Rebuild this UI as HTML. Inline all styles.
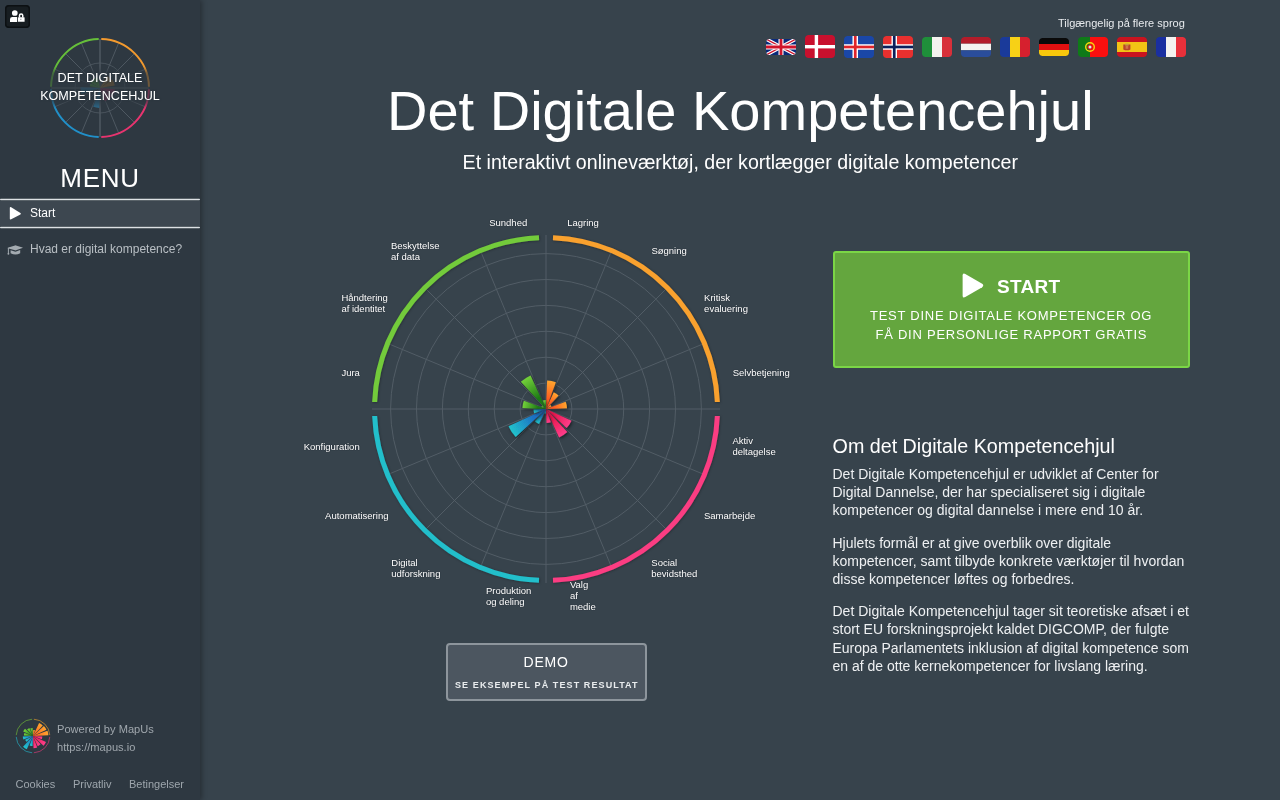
<!DOCTYPE html>
<html><head><meta charset="utf-8"><title>Det Digitale Kompetencehjul</title>
<style>
html,body{margin:0;padding:0}
body{width:1280px;height:800px;overflow:hidden;position:relative;background:#37434c;font-family:"Liberation Sans", sans-serif;color:#fff}
#sb{position:absolute;left:0;top:0;width:200px;height:800px;background:#2e3841;box-shadow:2px 0 5px rgba(0,0,0,.3)}
.cl{position:absolute;font-size:9.5px;line-height:11px;color:#fff;white-space:nowrap;text-shadow:0 0 1px #2a333b,0 0 1px #2a333b}
p{margin:0}
</style></head><body><div id="wrap" style="position:absolute;left:0;top:0;width:1280px;height:800px;will-change:transform">
<div id="sb">
  <div style="position:absolute;left:5px;top:5px;width:25px;height:23px;border-radius:4px;background:#171d21;box-shadow:inset 0 0 0 1.5px #0c1013"></div>
  <svg width="16" height="13" viewBox="0 0 16 13" style="position:absolute;left:10px;top:10px">
    <circle cx="4.8" cy="3" r="2.85" fill="#fff"/>
    <path d="M0 11.9V9.3Q0 6.9 2.4 6.9H7.1V11.9Z" fill="#fff"/>
    <path d="M8.3 7.25H14.2Q14.6 7.25 14.6 7.7V11.4Q14.6 11.8 14.2 11.8H8.3Q7.9 11.8 7.9 11.4V7.7Q7.9 7.25 8.3 7.25Z" fill="#fff"/>
    <path d="M9.5 7.5V5.4Q9.5 4 11.1 4Q12.75 4 12.75 5.4V7.5" fill="none" stroke="#fff" stroke-width="1.5"/>
    <rect x="10.1" y="8.8" width="1.4" height="0.9" fill="#8a8f93"/>
  </svg>
  <svg width="104" height="104" style="position:absolute;left:48px;top:36px">
<defs><filter id="lb" x="-50%" y="-50%" width="200%" height="200%"><feGaussianBlur stdDeviation="2.5"/></filter><mask id="lm" maskUnits="userSpaceOnUse" x="0" y="0" width="104" height="104"><rect width="104" height="104" fill="#fff"/><rect x="-20" y="34" width="144" height="35" fill="#555" filter="url(#lb)"/></mask></defs><g mask="url(#lm)">
<circle cx="52" cy="52" r="25" fill="none" stroke="#4a545d" stroke-width="1"/>
<line x1="52" y1="52" x2="52.00" y2="3.00" stroke="#4f5962" stroke-width="1.5"/>
<line x1="52" y1="52" x2="70.75" y2="6.73" stroke="#4f5962" stroke-width="1"/>
<line x1="52" y1="52" x2="86.65" y2="17.35" stroke="#4f5962" stroke-width="1"/>
<line x1="52" y1="52" x2="97.27" y2="33.25" stroke="#4f5962" stroke-width="1"/>
<line x1="52" y1="52" x2="101.00" y2="52.00" stroke="#4f5962" stroke-width="1.5"/>
<line x1="52" y1="52" x2="97.27" y2="70.75" stroke="#4f5962" stroke-width="1"/>
<line x1="52" y1="52" x2="86.65" y2="86.65" stroke="#4f5962" stroke-width="1"/>
<line x1="52" y1="52" x2="70.75" y2="97.27" stroke="#4f5962" stroke-width="1"/>
<line x1="52" y1="52" x2="52.00" y2="101.00" stroke="#4f5962" stroke-width="1.5"/>
<line x1="52" y1="52" x2="33.25" y2="97.27" stroke="#4f5962" stroke-width="1"/>
<line x1="52" y1="52" x2="17.35" y2="86.65" stroke="#4f5962" stroke-width="1"/>
<line x1="52" y1="52" x2="6.73" y2="70.75" stroke="#4f5962" stroke-width="1"/>
<line x1="52" y1="52" x2="3.00" y2="52.00" stroke="#4f5962" stroke-width="1.5"/>
<line x1="52" y1="52" x2="6.73" y2="33.25" stroke="#4f5962" stroke-width="1"/>
<line x1="52" y1="52" x2="17.35" y2="17.35" stroke="#4f5962" stroke-width="1"/>
<line x1="52" y1="52" x2="33.25" y2="6.73" stroke="#4f5962" stroke-width="1"/>
<path d="M53.28 3.02A49 49 0 0 1 100.98 50.72" fill="none" stroke="#f39a2e" stroke-width="2"/>
<path d="M100.98 53.28A49 49 0 0 1 53.28 100.98" fill="none" stroke="#e8346f" stroke-width="2"/>
<path d="M50.72 100.98A49 49 0 0 1 3.02 53.28" fill="none" stroke="#2190c9" stroke-width="2"/>
<path d="M3.02 50.72A49 49 0 0 1 50.72 3.02" fill="none" stroke="#66bf3a" stroke-width="2"/>
<path d="M52 52L41.66 50.18A10.5 10.5 0 0 1 42.56 47.40Z" fill="#4a8f33" opacity="0.9"/>
<path d="M52 52L42.29 46.84A11 11 0 0 1 44.64 43.83Z" fill="#4a8f33" opacity="0.9"/>
<path d="M52 52L45.06 43.73A10.8 10.8 0 0 1 49.75 41.44Z" fill="#4a8f33" opacity="0.9"/>
<path d="M52 52L59.00 39.88A14 14 0 0 1 63.03 43.38Z" fill="#9a6a2e" opacity="0.9"/>
<path d="M52 52L64.29 43.40A15 15 0 0 1 66.77 49.40Z" fill="#9a6a2e" opacity="0.9"/>
<path d="M52 52L33.45 58.03A19.5 19.5 0 0 1 32.51 51.32Z" fill="#2b6f93" opacity="0.9"/>
<path d="M52 52L51.30 71.99A20 20 0 0 1 45.16 70.79Z" fill="#2b6f93" opacity="0.9"/>
<path d="M52 52L66.94 53.31A15 15 0 0 1 65.24 59.04Z" fill="#8e3058" opacity="0.9"/>
<path d="M52 52L63.87 59.42A14 14 0 0 1 56.79 65.16Z" fill="#8e3058" opacity="0.9"/>
</g>
</svg>
  <div style="position:absolute;left:0;top:69.2px;width:200px;text-align:center;font-size:12.6px;line-height:18px;letter-spacing:0;color:#fff;text-shadow:0 0 2px rgba(45,55,64,.8)">DET DIGITALE<br>KOMPETENCEHJUL</div>
  <div style="position:absolute;left:0;top:163px;width:200px;text-align:center;font-size:26px;line-height:30px;letter-spacing:0.7px">MENU</div>
  <div style="position:absolute;left:0;top:201px;width:200px;height:25px;background:#3d4750"></div>
  <svg width="200" height="40" style="position:absolute;left:0;top:190px"><rect x="0" y="8.8" width="200" height="1.45" rx="0.7" fill="#dde1e4"/><rect x="0" y="36.8" width="200" height="1.45" rx="0.7" fill="#dde1e4"/></svg>
  <svg width="14" height="15" viewBox="0 0 14 15" style="position:absolute;left:9px;top:206px"><path d="M2.2 1.3Q0.8 0.6 0.8 2.1V12.5Q0.8 14.0 2.2 13.3L11.4 8.4Q12.5 7.7 11.4 7.0Z" fill="#fff"/></svg>
  <div style="position:absolute;left:30px;top:206.84px;font-size:12px;line-height:12px;white-space:nowrap;">Start</div>
  <svg width="17" height="11" viewBox="0 0 17 11" style="position:absolute;left:7.2px;top:244.5px"><path d="M0.6 3.2Q0.6 2.6 1.4 2.4L8 0.4Q8.5 0.25 9 0.4L15.4 2.4Q16.2 2.7 15.4 3.1L9 5.3Q8.5 5.5 8 5.3Z" fill="#a3aab0"/><path d="M3.6 5.2V8.2Q8.5 10.8 13.2 8.2V5.1L8.5 6.7Z" fill="#a3aab0"/><path d="M1.4 3V8.4" stroke="#a3aab0" stroke-width="1"/><ellipse cx="1.4" cy="8.8" rx="0.9" ry="1" fill="#a3aab0"/></svg>
  <div style="position:absolute;left:30px;top:242.54px;font-size:12px;line-height:12px;white-space:nowrap;color:#b9bfc4">Hvad er digital kompetence?</div>
  <svg width="36" height="36" style="position:absolute;left:14.5px;top:718.3px">
<defs>
<radialGradient id="m0" gradientUnits="userSpaceOnUse" cx="18" cy="18" r="6"><stop offset="0" stop-color="#ff5a1f"/><stop offset="1" stop-color="#ffa52e"/></radialGradient>
<radialGradient id="m1" gradientUnits="userSpaceOnUse" cx="18" cy="18" r="14.4"><stop offset="0" stop-color="#ff5a1f"/><stop offset="1" stop-color="#ffa52e"/></radialGradient>
<radialGradient id="m2" gradientUnits="userSpaceOnUse" cx="18" cy="18" r="14.8"><stop offset="0" stop-color="#ff5a1f"/><stop offset="1" stop-color="#ffa52e"/></radialGradient>
<radialGradient id="m3" gradientUnits="userSpaceOnUse" cx="18" cy="18" r="15.4"><stop offset="0" stop-color="#ff5a1f"/><stop offset="1" stop-color="#ffa52e"/></radialGradient>
<radialGradient id="m4" gradientUnits="userSpaceOnUse" cx="18" cy="18" r="9.3"><stop offset="0" stop-color="#e8194f"/><stop offset="1" stop-color="#ff3d8a"/></radialGradient>
<radialGradient id="m5" gradientUnits="userSpaceOnUse" cx="18" cy="18" r="14.3"><stop offset="0" stop-color="#e8194f"/><stop offset="1" stop-color="#ff3d8a"/></radialGradient>
<radialGradient id="m6" gradientUnits="userSpaceOnUse" cx="18" cy="18" r="11.2"><stop offset="0" stop-color="#e8194f"/><stop offset="1" stop-color="#ff3d8a"/></radialGradient>
<radialGradient id="m7" gradientUnits="userSpaceOnUse" cx="18" cy="18" r="12.3"><stop offset="0" stop-color="#e8194f"/><stop offset="1" stop-color="#ff3d8a"/></radialGradient>
<radialGradient id="m8" gradientUnits="userSpaceOnUse" cx="18" cy="18" r="10"><stop offset="0" stop-color="#1f6fc4"/><stop offset="1" stop-color="#20c3cc"/></radialGradient>
<radialGradient id="m9" gradientUnits="userSpaceOnUse" cx="18" cy="18" r="14.7"><stop offset="0" stop-color="#1f6fc4"/><stop offset="1" stop-color="#20c3cc"/></radialGradient>
<radialGradient id="m10" gradientUnits="userSpaceOnUse" cx="18" cy="18" r="8.6"><stop offset="0" stop-color="#1f6fc4"/><stop offset="1" stop-color="#20c3cc"/></radialGradient>
<radialGradient id="m11" gradientUnits="userSpaceOnUse" cx="18" cy="18" r="10.2"><stop offset="0" stop-color="#1f6fc4"/><stop offset="1" stop-color="#20c3cc"/></radialGradient>
<radialGradient id="m12" gradientUnits="userSpaceOnUse" cx="18" cy="18" r="9.1"><stop offset="0" stop-color="#1d7a16"/><stop offset="1" stop-color="#74d13a"/></radialGradient>
<radialGradient id="m13" gradientUnits="userSpaceOnUse" cx="18" cy="18" r="10.8"><stop offset="0" stop-color="#1d7a16"/><stop offset="1" stop-color="#74d13a"/></radialGradient>
<radialGradient id="m14" gradientUnits="userSpaceOnUse" cx="18" cy="18" r="8.7"><stop offset="0" stop-color="#1d7a16"/><stop offset="1" stop-color="#74d13a"/></radialGradient>
<radialGradient id="m15" gradientUnits="userSpaceOnUse" cx="18" cy="18" r="8"><stop offset="0" stop-color="#1d7a16"/><stop offset="1" stop-color="#74d13a"/></radialGradient>
</defs>
<path d="M18.88 1.22A16.8 16.8 0 0 1 34.78 17.12" fill="none" stroke="#a57a34" stroke-width="1"/>
<path d="M34.78 18.88A16.8 16.8 0 0 1 18.88 34.78" fill="none" stroke="#a23a66" stroke-width="1"/>
<path d="M17.12 34.78A16.8 16.8 0 0 1 1.22 18.88" fill="none" stroke="#27899a" stroke-width="1"/>
<path d="M1.22 17.12A16.8 16.8 0 0 1 17.12 1.22" fill="none" stroke="#5a8d3a" stroke-width="1"/>
<path d="M18 18L18.26 12.01A6 6 0 0 1 20.05 12.36Z" fill="url(#m0)"/>
<path d="M18 18L24.09 4.95A14.4 14.4 0 0 1 27.73 7.38Z" fill="url(#m1)"/>
<path d="M18 18L28.91 8.00A14.8 14.8 0 0 1 31.41 11.75Z" fill="url(#m2)"/>
<path d="M18 18L32.47 12.73A15.4 15.4 0 0 1 33.39 17.33Z" fill="url(#m3)"/>
<path d="M18 18L27.29 18.41A9.3 9.3 0 0 1 26.74 21.18Z" fill="url(#m4)"/>
<path d="M18 18L30.96 24.04A14.3 14.3 0 0 1 28.54 27.66Z" fill="url(#m5)"/>
<path d="M18 18L25.57 26.26A11.2 11.2 0 0 1 22.73 28.15Z" fill="url(#m6)"/>
<path d="M18 18L22.21 29.56A12.3 12.3 0 0 1 18.54 30.29Z" fill="url(#m7)"/>
<path d="M18 18L17.56 27.99A10 10 0 0 1 14.58 27.40Z" fill="url(#m8)"/>
<path d="M18 18L11.79 31.32A14.7 14.7 0 0 1 8.07 28.84Z" fill="url(#m9)"/>
<path d="M18 18L11.66 23.81A8.6 8.6 0 0 1 10.21 21.63Z" fill="url(#m10)"/>
<path d="M18 18L8.42 21.49A10.2 10.2 0 0 1 7.81 18.44Z" fill="url(#m11)"/>
<path d="M18 18L8.91 17.60A9.1 9.1 0 0 1 9.45 14.89Z" fill="url(#m12)"/>
<path d="M18 18L8.21 13.44A10.8 10.8 0 0 1 10.04 10.70Z" fill="url(#m13)"/>
<path d="M18 18L12.12 11.59A8.7 8.7 0 0 1 14.32 10.12Z" fill="url(#m14)"/>
<path d="M18 18L15.26 10.48A8 8 0 0 1 17.65 10.01Z" fill="url(#m15)"/>
</svg>
  <div style="position:absolute;left:57px;top:723.60px;font-size:11.1px;line-height:11.1px;white-space:nowrap;color:#a0a7ad">Powered by MapUs</div>
  <div style="position:absolute;left:57px;top:741.60px;font-size:11.1px;line-height:11.1px;white-space:nowrap;color:#a0a7ad">https://mapus.io</div>
  <div style="position:absolute;left:15.5px;top:778.69px;font-size:11px;line-height:11px;white-space:nowrap;color:#9ea6ad">Cookies</div>
  <div style="position:absolute;left:73px;top:778.69px;font-size:11px;line-height:11px;white-space:nowrap;color:#9ea6ad">Privatliv</div>
  <div style="position:absolute;left:129px;top:778.69px;font-size:11px;line-height:11px;white-space:nowrap;color:#9ea6ad">Betingelser</div>
</div>
<div style="position:absolute;left:1058px;top:18.19px;font-size:11px;line-height:11px;white-space:nowrap;color:#e8ebee">Tilgængelig på flere sprog</div>
<svg width="30" height="16" viewBox="0 0 30 16" preserveAspectRatio="none" style="position:absolute;left:766px;top:39px;border-radius:3px"><defs><clipPath id="c766"><rect width="30" height="16" rx="3.5"/></clipPath></defs><g clip-path="url(#c766)"><rect width="30" height="16" fill="#0b2a7a"/><path d="M0 0L30 16M30 0L0 16" stroke="#fff" stroke-width="3.6"/><path d="M0 0L30 16M30 0L0 16" stroke="#d0132b" stroke-width="1.3"/><path d="M15 0V16M0 8.0H30" stroke="#fff" stroke-width="5"/><path d="M15 0V16M0 8.0H30" stroke="#d0132b" stroke-width="2.8"/></g></svg>
<svg width="30" height="23" viewBox="0 0 30 23" preserveAspectRatio="none" style="position:absolute;left:805px;top:35px;border-radius:3px"><defs><clipPath id="c805"><rect width="30" height="23" rx="3.5"/></clipPath></defs><g clip-path="url(#c805)"><rect width="30" height="23" fill="#c8102e"/><rect x="9.7" width="3.4" height="23" fill="#fff"/><rect y="10" width="30" height="3.4" fill="#fff"/></g></svg>
<svg width="30" height="22" viewBox="0 0 30 22" preserveAspectRatio="none" style="position:absolute;left:844px;top:36px;border-radius:3px"><defs><clipPath id="c844"><rect width="30" height="22" rx="3.5"/></clipPath></defs><g clip-path="url(#c844)"><rect width="30" height="22" fill="#1a47a8"/><rect x="8.5" width="5.5" height="22" fill="#fff"/><rect y="8.25" width="30" height="5.5" fill="#fff"/><rect x="9.9" width="2.7" height="22" fill="#e0242b"/><rect y="9.65" width="30" height="2.7" fill="#e0242b"/></g></svg>
<svg width="30" height="22" viewBox="0 0 30 22" preserveAspectRatio="none" style="position:absolute;left:883px;top:36px;border-radius:3px"><defs><clipPath id="c883"><rect width="30" height="22" rx="3.5"/></clipPath></defs><g clip-path="url(#c883)"><rect width="30" height="22" fill="#e8302f"/><rect x="8.5" width="5.5" height="22" fill="#fff"/><rect y="8.25" width="30" height="5.5" fill="#fff"/><rect x="9.9" width="2.7" height="22" fill="#0a1f5c"/><rect y="9.65" width="30" height="2.7" fill="#0a1f5c"/></g></svg>
<svg width="30" height="20" viewBox="0 0 30 20" preserveAspectRatio="none" style="position:absolute;left:922px;top:37px;border-radius:3px"><defs><clipPath id="c922"><rect width="30" height="20" rx="3.5"/></clipPath></defs><g clip-path="url(#c922)"><rect width="10" height="20" fill="#1f8f3a"/><rect x="10" width="10" height="20" fill="#f4f2ef"/><rect x="20" width="10" height="20" fill="#d8303a"/></g></svg>
<svg width="30" height="20" viewBox="0 0 30 20" preserveAspectRatio="none" style="position:absolute;left:961px;top:37px;border-radius:3px"><defs><clipPath id="c961"><rect width="30" height="20" rx="3.5"/></clipPath></defs><g clip-path="url(#c961)"><rect width="30" height="6.7" fill="#b31c2a"/><rect y="6.7" width="30" height="6.6" fill="#f4f2ef"/><rect y="13.3" width="30" height="6.7" fill="#2a4d9b"/></g></svg>
<svg width="30" height="20" viewBox="0 0 30 20" preserveAspectRatio="none" style="position:absolute;left:1000px;top:37px;border-radius:3px"><defs><clipPath id="c1000"><rect width="30" height="20" rx="3.5"/></clipPath></defs><g clip-path="url(#c1000)"><rect width="10" height="20" fill="#1a3a9a"/><rect x="10" width="10" height="20" fill="#f7d116"/><rect x="20" width="10" height="20" fill="#d6202e"/></g></svg>
<svg width="30" height="18" viewBox="0 0 30 18" preserveAspectRatio="none" style="position:absolute;left:1039px;top:38px;border-radius:3px"><defs><clipPath id="c1039"><rect width="30" height="18" rx="3.5"/></clipPath></defs><g clip-path="url(#c1039)"><rect width="30" height="6" fill="#0a0a0a"/><rect y="6" width="30" height="6" fill="#e01010"/><rect y="12" width="30" height="6" fill="#f8c80c"/></g></svg>
<svg width="30" height="20" viewBox="0 0 30 20" preserveAspectRatio="none" style="position:absolute;left:1078px;top:37px;border-radius:3px"><defs><clipPath id="c1078"><rect width="30" height="20" rx="3.5"/></clipPath></defs><g clip-path="url(#c1078)"><rect width="12" height="20" fill="#0f7a18"/><rect x="12" width="18" height="20" fill="#fa0f0f"/><circle cx="12" cy="10" r="4.3" fill="none" stroke="#f6d80c" stroke-width="1.4"/><circle cx="12" cy="10" r="2.6" fill="#e01515"/><circle cx="12" cy="10" r="1.5" fill="#d8e8f5"/></g></svg>
<svg width="30" height="20" viewBox="0 0 30 20" preserveAspectRatio="none" style="position:absolute;left:1117px;top:37px;border-radius:3px"><defs><clipPath id="c1117"><rect width="30" height="20" rx="3.5"/></clipPath></defs><g clip-path="url(#c1117)"><rect width="30" height="20" fill="#c8141f"/><rect y="5" width="30" height="10" fill="#f2c315"/><path d="M6.3 7.6H13.4V12.4Q9.9 14.2 6.3 12.4Z" fill="#b8452a"/><rect x="8.2" y="6.6" width="3.4" height="2" fill="#c9a33a"/><rect x="8.6" y="9" width="2.6" height="2.8" fill="#d4704a"/></g></svg>
<svg width="30" height="20" viewBox="0 0 30 20" preserveAspectRatio="none" style="position:absolute;left:1156px;top:37px;border-radius:3px"><defs><clipPath id="c1156"><rect width="30" height="20" rx="3.5"/></clipPath></defs><g clip-path="url(#c1156)"><rect width="10" height="20" fill="#1a2fa0"/><rect x="10" width="10" height="20" fill="#f4f2ef"/><rect x="20" width="10" height="20" fill="#e8303a"/></g></svg>
<div style="position:absolute;left:387px;top:82.60px;font-size:56px;line-height:56px;white-space:nowrap;">Det Digitale Kompetencehjul</div>
<div style="position:absolute;left:462.6px;top:153.41px;font-size:19.6px;line-height:19.6px;white-space:nowrap;">Et interaktivt onlineværktøj, der kortlægger digitale kompetencer</div>
<svg width="500" height="420" style="position:absolute;left:296px;top:200px">
<defs><filter id="sh" x="-50%" y="-50%" width="200%" height="200%"><feDropShadow dx="1.2" dy="1.2" stdDeviation="1.4" flood-color="#000" flood-opacity="0.55"/></filter>
<filter id="sh2" x="-10%" y="-10%" width="120%" height="120%"><feDropShadow dx="0.5" dy="0.5" stdDeviation="0.8" flood-color="#000" flood-opacity="0.35"/></filter>
<radialGradient id="g0" gradientUnits="userSpaceOnUse" cx="250" cy="209" r="28.5"><stop offset="0" stop-color="#ff5a1f"/><stop offset="0.35" stop-color="#ff5a1f"/><stop offset="1" stop-color="#ffa52e"/></radialGradient>
<radialGradient id="g1" gradientUnits="userSpaceOnUse" cx="250" cy="209" r="18.5"><stop offset="0" stop-color="#ff5a1f"/><stop offset="0.35" stop-color="#ff5a1f"/><stop offset="1" stop-color="#ffa52e"/></radialGradient>
<radialGradient id="g2" gradientUnits="userSpaceOnUse" cx="250" cy="209" r="6"><stop offset="0" stop-color="#ff5a1f"/><stop offset="0.35" stop-color="#ff5a1f"/><stop offset="1" stop-color="#ffa52e"/></radialGradient>
<radialGradient id="g3" gradientUnits="userSpaceOnUse" cx="250" cy="209" r="21"><stop offset="0" stop-color="#ff5a1f"/><stop offset="0.35" stop-color="#ff5a1f"/><stop offset="1" stop-color="#ffa52e"/></radialGradient>
<radialGradient id="g5" gradientUnits="userSpaceOnUse" cx="250" cy="209" r="28"><stop offset="0" stop-color="#e8194f"/><stop offset="0.35" stop-color="#e8194f"/><stop offset="1" stop-color="#ff3d8a"/></radialGradient>
<radialGradient id="g6" gradientUnits="userSpaceOnUse" cx="250" cy="209" r="31.3"><stop offset="0" stop-color="#e8194f"/><stop offset="0.35" stop-color="#e8194f"/><stop offset="1" stop-color="#ff3d8a"/></radialGradient>
<radialGradient id="g7" gradientUnits="userSpaceOnUse" cx="250" cy="209" r="14"><stop offset="0" stop-color="#e8194f"/><stop offset="0.35" stop-color="#e8194f"/><stop offset="1" stop-color="#ff3d8a"/></radialGradient>
<radialGradient id="g8" gradientUnits="userSpaceOnUse" cx="250" cy="209" r="4.5"><stop offset="0" stop-color="#1f6fc4"/><stop offset="0.35" stop-color="#1f6fc4"/><stop offset="1" stop-color="#20c3cc"/></radialGradient>
<radialGradient id="g9" gradientUnits="userSpaceOnUse" cx="250" cy="209" r="16.6"><stop offset="0" stop-color="#1f6fc4"/><stop offset="0.35" stop-color="#1f6fc4"/><stop offset="1" stop-color="#20c3cc"/></radialGradient>
<radialGradient id="g10" gradientUnits="userSpaceOnUse" cx="250" cy="209" r="41.3"><stop offset="0" stop-color="#1f6fc4"/><stop offset="0.35" stop-color="#1f6fc4"/><stop offset="1" stop-color="#20c3cc"/></radialGradient>
<radialGradient id="g11" gradientUnits="userSpaceOnUse" cx="250" cy="209" r="12.5"><stop offset="0" stop-color="#1f6fc4"/><stop offset="0.35" stop-color="#1f6fc4"/><stop offset="1" stop-color="#20c3cc"/></radialGradient>
<radialGradient id="g12" gradientUnits="userSpaceOnUse" cx="250" cy="209" r="23.6"><stop offset="0" stop-color="#1d7a16"/><stop offset="0.35" stop-color="#1d7a16"/><stop offset="1" stop-color="#74d13a"/></radialGradient>
<radialGradient id="g13" gradientUnits="userSpaceOnUse" cx="250" cy="209" r="5"><stop offset="0" stop-color="#1d7a16"/><stop offset="0.35" stop-color="#1d7a16"/><stop offset="1" stop-color="#74d13a"/></radialGradient>
<radialGradient id="g14" gradientUnits="userSpaceOnUse" cx="250" cy="209" r="37"><stop offset="0" stop-color="#1d7a16"/><stop offset="0.35" stop-color="#1d7a16"/><stop offset="1" stop-color="#74d13a"/></radialGradient>
<radialGradient id="g15" gradientUnits="userSpaceOnUse" cx="250" cy="209" r="9"><stop offset="0" stop-color="#1d7a16"/><stop offset="0.35" stop-color="#1d7a16"/><stop offset="1" stop-color="#74d13a"/></radialGradient>
</defs>
<circle cx="250" cy="209" r="25.90" fill="none" stroke="#525d66" stroke-width="1"/>
<circle cx="250" cy="209" r="51.80" fill="none" stroke="#525d66" stroke-width="1"/>
<circle cx="250" cy="209" r="77.70" fill="none" stroke="#525d66" stroke-width="1"/>
<circle cx="250" cy="209" r="103.60" fill="none" stroke="#525d66" stroke-width="1"/>
<circle cx="250" cy="209" r="129.50" fill="none" stroke="#525d66" stroke-width="1"/>
<circle cx="250" cy="209" r="155.40" fill="none" stroke="#525d66" stroke-width="1"/>
<line x1="250" y1="209" x2="250.00" y2="35.00" stroke="#525d66" stroke-width="1"/>
<line x1="250" y1="209" x2="316.59" y2="48.24" stroke="#525d66" stroke-width="1"/>
<line x1="250" y1="209" x2="373.04" y2="85.96" stroke="#525d66" stroke-width="1"/>
<line x1="250" y1="209" x2="410.76" y2="142.41" stroke="#525d66" stroke-width="1"/>
<line x1="250" y1="209" x2="424.00" y2="209.00" stroke="#525d66" stroke-width="1"/>
<line x1="250" y1="209" x2="410.76" y2="275.59" stroke="#525d66" stroke-width="1"/>
<line x1="250" y1="209" x2="373.04" y2="332.04" stroke="#525d66" stroke-width="1"/>
<line x1="250" y1="209" x2="316.59" y2="369.76" stroke="#525d66" stroke-width="1"/>
<line x1="250" y1="209" x2="250.00" y2="383.00" stroke="#525d66" stroke-width="1"/>
<line x1="250" y1="209" x2="183.41" y2="369.76" stroke="#525d66" stroke-width="1"/>
<line x1="250" y1="209" x2="126.96" y2="332.04" stroke="#525d66" stroke-width="1"/>
<line x1="250" y1="209" x2="89.24" y2="275.59" stroke="#525d66" stroke-width="1"/>
<line x1="250" y1="209" x2="76.00" y2="209.00" stroke="#525d66" stroke-width="1"/>
<line x1="250" y1="209" x2="89.24" y2="142.41" stroke="#525d66" stroke-width="1"/>
<line x1="250" y1="209" x2="126.96" y2="85.96" stroke="#525d66" stroke-width="1"/>
<line x1="250" y1="209" x2="183.41" y2="48.24" stroke="#525d66" stroke-width="1"/>
<path d="M257.00 37.64A171.5 171.5 0 0 1 421.36 202.00" fill="none" stroke="#f9a12f" stroke-width="5" filter="url(#sh2)"/>
<path d="M421.36 216.00A171.5 171.5 0 0 1 257.00 380.36" fill="none" stroke="#fb3c82" stroke-width="5" filter="url(#sh2)"/>
<path d="M243.00 380.36A171.5 171.5 0 0 1 78.64 216.00" fill="none" stroke="#22bfcb" stroke-width="5" filter="url(#sh2)"/>
<path d="M78.64 202.00A171.5 171.5 0 0 1 243.00 37.64" fill="none" stroke="#73cb3b" stroke-width="5" filter="url(#sh2)"/>
<path d="M250 209L251.12 180.52A28.5 28.5 0 0 1 259.86 182.26Z" fill="url(#g0)" filter="url(#sh)"/>
<path d="M250 209L257.75 192.20A18.5 18.5 0 0 1 262.56 195.42Z" fill="url(#g1)" filter="url(#sh)"/>
<path d="M250 209L254.41 204.93A6 6 0 0 1 255.45 206.49Z" fill="url(#g2)" filter="url(#sh)"/>
<path d="M250 209L269.70 201.73A21 21 0 0 1 270.98 208.18Z" fill="url(#g3)" filter="url(#sh)"/>
<path d="M250 209L275.43 220.72A28 28 0 0 1 270.56 228.01Z" fill="url(#g5)" filter="url(#sh)"/>
<path d="M250 209L271.25 231.98A31.3 31.3 0 0 1 263.10 237.42Z" fill="url(#g6)" filter="url(#sh)"/>
<path d="M250 209L254.85 222.13A14 14 0 0 1 250.55 222.99Z" fill="url(#g7)" filter="url(#sh)"/>
<path d="M250 209L249.82 213.50A4.5 4.5 0 0 1 248.44 213.22Z" fill="url(#g8)" filter="url(#sh)"/>
<path d="M250 209L243.05 224.08A16.6 16.6 0 0 1 238.73 221.19Z" fill="url(#g9)" filter="url(#sh)"/>
<path d="M250 209L219.67 237.03A41.3 41.3 0 0 1 212.49 226.29Z" fill="url(#g10)" filter="url(#sh)"/>
<path d="M250 209L238.27 213.33A12.5 12.5 0 0 1 237.51 209.49Z" fill="url(#g11)" filter="url(#sh)"/>
<path d="M250 209L226.42 208.07A23.6 23.6 0 0 1 227.86 200.83Z" fill="url(#g12)" filter="url(#sh)"/>
<path d="M250 209L245.46 206.91A5 5 0 0 1 246.33 205.61Z" fill="url(#g13)" filter="url(#sh)"/>
<path d="M250 209L224.88 181.83A37 37 0 0 1 234.51 175.40Z" fill="url(#g14)" filter="url(#sh)"/>
<path d="M250 209L246.88 200.56A9 9 0 0 1 249.65 200.01Z" fill="url(#g15)" filter="url(#sh)"/>
</svg>
<div class="cl" style="left:489.2px;top:216.9px">Sundhed</div>
<div class="cl" style="left:567.2px;top:216.9px">Lagring</div>
<div class="cl" style="left:651.4px;top:245.4px">Søgning</div>
<div class="cl" style="left:390.9px;top:239.6px">Beskyttelse<br>af data</div>
<div class="cl" style="left:704.1px;top:292.4px">Kritisk<br>evaluering</div>
<div class="cl" style="left:341.4px;top:291.9px">Håndtering<br>af identitet</div>
<div class="cl" style="left:341.4px;top:367.2px">Jura</div>
<div class="cl" style="left:732.7px;top:367.2px">Selvbetjening</div>
<div class="cl" style="left:303.7px;top:440.8px">Konfiguration</div>
<div class="cl" style="left:732.4px;top:435.2px">Aktiv<br>deltagelse</div>
<div class="cl" style="left:325.1px;top:509.5px">Automatisering</div>
<div class="cl" style="left:704.0px;top:509.5px">Samarbejde</div>
<div class="cl" style="left:391.3px;top:557.2px">Digital<br>udforskning</div>
<div class="cl" style="left:651.3px;top:557.2px">Social<br>bevidsthed</div>
<div class="cl" style="left:485.9px;top:584.6px">Produktion<br>og deling</div>
<div class="cl" style="left:569.9px;top:578.8px">Valg<br>af<br>medie</div>
<div style="position:absolute;left:446px;top:643px;width:197px;height:54px;border:2px solid #8d959c;border-radius:4px;background:#4c5660"></div>
<div style="position:absolute;left:523.5px;top:655.35px;font-size:14px;line-height:14px;white-space:nowrap;letter-spacing:0.8px">DEMO</div>
<div style="position:absolute;left:455px;top:681.38px;font-size:9px;line-height:9px;white-space:nowrap;font-weight:bold;letter-spacing:1.1px;color:#e9ecee">SE EKSEMPEL PÅ TEST RESULTAT</div>
<div style="position:absolute;left:833px;top:251px;width:353px;height:113px;border:2px solid #7bd646;border-radius:3px;background:#64a63e"></div>
<svg width="22" height="25" viewBox="0 0 22 25" style="position:absolute;left:961.5px;top:273.3px"><path d="M3.3 0.9Q0.6 -0.6 0.6 2.6V22.4Q0.6 25.6 3.3 24.1L20.2 14.2Q22.3 12.5 20.2 10.8Z" fill="#fff"/></svg>
<div style="position:absolute;left:997px;top:277.32px;font-size:19px;line-height:19px;white-space:nowrap;font-weight:bold;letter-spacing:0.3px">START</div>
<div style="position:absolute;left:870px;top:309.10px;font-size:13px;line-height:13px;white-space:nowrap;letter-spacing:0.75px">TEST DINE DIGITALE KOMPETENCER OG</div>
<div style="position:absolute;left:875.5px;top:328.40px;font-size:13px;line-height:13px;white-space:nowrap;letter-spacing:0.75px">FÅ DIN PERSONLIGE RAPPORT GRATIS</div>
<div style="position:absolute;left:832.6px;top:436.82px;font-size:19.7px;line-height:19.7px;white-space:nowrap;">Om det Digitale Kompetencehjul</div>
<div style="position:absolute;left:832.5px;top:465px;width:370px;font-size:14px;line-height:18.2px;color:#eef0f2">
<p>Det Digitale Kompetencehjul er udviklet af Center for<br>Digital Dannelse, der har specialiseret sig i digitale<br>kompetencer og digital dannelse i mere end 10 år.</p>
<p style="margin-top:14px">Hjulets formål er at give overblik over digitale<br>kompetencer, samt tilbyde konkrete værktøjer til hvordan<br>disse kompetencer løftes og forbedres.</p>
<p style="margin-top:14px">Det Digitale Kompetencehjul tager sit teoretiske afsæt i et<br>stort EU forskningsprojekt kaldet DIGCOMP, der fulgte<br>Europa Parlamentets inklusion af digital kompetence som<br>en af de otte kernekompetencer for livslang læring.</p>
</div>
</div></body></html>
